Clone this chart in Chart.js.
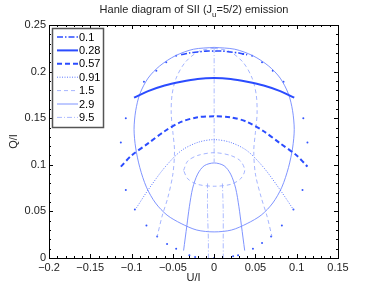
<!DOCTYPE html>
<html>
<head>
<meta charset="utf-8">
<script src="https://cdn.jsdelivr.net/npm/chart.js@4.4.1/dist/chart.umd.min.js"></script>
<style>
  html, body { margin: 0; padding: 0; background: #fff; }
  #wrap { position: relative; width: 374px; height: 291px; }
</style>
</head>
<body>
<div id="wrap"><canvas id="hanle" width="374" height="291"></canvas></div>
<script>
// valeurs : U/I (x) et Q/I (y)
const legendLabels = ['0.1', '0.28', '0.57', '0.91', '1.5', '2.9', '9.5'];
const xTicks = [-0.2, -0.15, -0.1, -0.05, 0, 0.05, 0.1, 0.15];
const yTicks = [0, 0.05, 0.1, 0.15, 0.2, 0.25];

// courbes à champ constant
const b01U = [-0.040, -0.030, -0.020, -0.010, 0, 0.010, 0.020, 0.030, 0.040];
const b01Q = [0.218, 0.220, 0.221, 0.222, 0.222, 0.222, 0.221, 0.220, 0.218];

const b028U = [-0.097, -0.080, -0.060, -0.040, -0.020, 0, 0.020, 0.040, 0.060, 0.080, 0.097];
const b028Q = [0.172, 0.179, 0.185, 0.189, 0.192, 0.193, 0.192, 0.189, 0.185, 0.179, 0.172];

const b057U = [-0.113, -0.100, -0.080, -0.060, -0.040, -0.020, 0, 0.020, 0.040, 0.060, 0.080, 0.100, 0.113];
const b057Q = [0.098, 0.110, 0.123, 0.136, 0.146, 0.151, 0.152, 0.151, 0.146, 0.136, 0.123, 0.110, 0.098];

const b091U = [-0.094, -0.080, -0.060, -0.040, -0.020, 0, 0.020, 0.040, 0.060, 0.080, 0.096];
const b091Q = [0.054, 0.073, 0.097, 0.115, 0.124, 0.127, 0.124, 0.115, 0.097, 0.073, 0.052];

const b15U = [-0.037, -0.032, -0.020, 0, 0.020, 0.032, 0.037, 0.032, 0.020, 0, -0.020, -0.032, -0.037];
const b15Q = [0.094, 0.104, 0.110, 0.113, 0.110, 0.104, 0.094, 0.085, 0.079, 0.077, 0.079, 0.085, 0.094];

const b29U = [-0.037, -0.033, -0.030, -0.026, -0.020, -0.012, 0, 0.012, 0.020, 0.026, 0.030, 0.033, 0.037];
const b29Q = [0.008, 0.035, 0.055, 0.075, 0.090, 0.099, 0.102, 0.099, 0.090, 0.075, 0.055, 0.035, 0.008];

const b95U = [-0.008, -0.008, -0.007, -0.007];
const b95Q = [0.080, 0.050, 0.020, 0.000];
const b95bU = [0.010, 0.011, 0.011, 0.011];
const b95bQ = [0.080, 0.050, 0.020, 0.000];

// courbes à azimut constant
const cercleU = [0, 0.025, 0.047, 0.066, 0.080, 0.090, 0.095, 0.097, 0.095, 0.090, 0.082, 0.071, 0.057, 0.040, 0.021, 0,
                 -0.021, -0.040, -0.057, -0.071, -0.082, -0.090, -0.095, -0.097, -0.095, -0.090, -0.080, -0.066, -0.047, -0.025, 0];
const cercleQ = [0.226, 0.224, 0.217, 0.206, 0.193, 0.176, 0.158, 0.138, 0.118, 0.097, 0.076, 0.059, 0.046, 0.037, 0.030, 0.028,
                 0.030, 0.037, 0.046, 0.059, 0.076, 0.097, 0.118, 0.138, 0.158, 0.176, 0.193, 0.206, 0.217, 0.224, 0.226];

const radGU = [0, -0.018, -0.035, -0.046, -0.051, -0.052, -0.050, -0.048, -0.050, -0.056, -0.063, -0.069];
const radGQ = [0.225, 0.222, 0.210, 0.193, 0.175, 0.155, 0.135, 0.115, 0.090, 0.065, 0.045, 0.023];
const radDU = [0, 0.018, 0.035, 0.046, 0.051, 0.052, 0.050, 0.048, 0.050, 0.057, 0.064, 0.070];
const radDQ = [0.225, 0.222, 0.210, 0.193, 0.175, 0.155, 0.135, 0.115, 0.090, 0.065, 0.045, 0.023];

const axeU = [0, 0, 0];
const axeQ = [0.225, 0.160, 0.103];

// points isolés de la grande boucle
const pointsU = [-0.023, -0.030, -0.046, -0.057, -0.069, -0.082, -0.096, -0.107, -0.113, -0.107, -0.085, -0.070, -0.058, -0.046,
                 0.035, 0.046, 0.058, 0.071, 0.084, 0.108, 0.113, 0.107, 0.096, 0.082, 0.069, 0.058, 0.047, 0.029, 0.023, 0];
const pointsQ = [0.001, 0.003, 0.010, 0.015, 0.023, 0.035, 0.052, 0.073, 0.124, 0.150, 0.189, 0.201, 0.210, 0.217,
                 0.219, 0.217, 0.210, 0.201, 0.189, 0.150, 0.124, 0.073, 0.052, 0.035, 0.023, 0.016, 0.010, 0.003, 0.002, 0];

function pts(us, qs) {
    return us.map((u, i) => ({ x: u, y: qs[i] }));
}

// styles des sept valeurs de la légende
const styles = [
    { color: '#2b4cff', width: 1.6, dash: [6, 2, 1.5, 2] },
    { color: '#2b4cff', width: 2,   dash: [] },
    { color: '#2b4cff', width: 2,   dash: [5, 3] },
    { color: '#5c78ff', width: 1,   dash: [1, 1.5] },
    { color: '#8ea2ff', width: 0.8, dash: [4, 3] },
    { color: '#7088ff', width: 0.9, dash: [] },
    { color: '#95a8ff', width: 0.8, dash: [5, 2, 1, 2] }
];

function serie(us, qs, k, label) {
    return {
        label: label || '',
        data: pts(us, qs),
        showLine: true,
        borderColor: styles[k].color,
        backgroundColor: styles[k].color,
        borderWidth: styles[k].width,
        borderDash: styles[k].dash,
        pointRadius: 0,
        tension: 0.3
    };
}

const datasets = [
    serie(b01U, b01Q, 0, legendLabels[0]),
    serie(b028U, b028Q, 1, legendLabels[1]),
    serie(b057U, b057Q, 2, legendLabels[2]),
    serie(b091U, b091Q, 3, legendLabels[3]),
    serie(b15U, b15Q, 4, legendLabels[4]),
    serie(b29U, b29Q, 5, legendLabels[5]),
    serie(b95U, b95Q, 6, legendLabels[6]),
    serie(b95bU, b95bQ, 6),
    serie(cercleU, cercleQ, 5),
    serie(radGU, radGQ, 4),
    serie(radDU, radDQ, 4),
    serie(axeU, axeQ, 6),
    {
        label: '',
        data: pts(pointsU, pointsQ),
        showLine: false,
        pointRadius: 1,
        pointBorderWidth: 0,
        backgroundColor: '#3355ff',
        borderColor: '#3355ff'
    }
];

// ticks vers l'intérieur, cadre complet, petits ticks (style matlab)
const matlabAxes = {
    id: 'matlabAxes',
    afterDatasetsDraw(chart) {
        const c = chart.ctx;
        const a = chart.chartArea;
        const xs = chart.scales.x, ys = chart.scales.y;
        c.save();
        c.strokeStyle = '#000';
        c.lineWidth = 1;
        c.beginPath();
        for (let v = -0.2; v <= 0.1501; v += 0.01) {
            const px = Math.round(xs.getPixelForValue(v)) + 0.5;
            const major = Math.abs(v / 0.05 - Math.round(v / 0.05)) < 1e-6;
            const l = major ? 4 : 2;
            c.moveTo(px, a.bottom); c.lineTo(px, a.bottom - l);
            c.moveTo(px, a.top); c.lineTo(px, a.top + l);
        }
        for (let v = 0; v <= 0.2501; v += 0.01) {
            const py = Math.round(ys.getPixelForValue(v)) + 0.5;
            const major = Math.abs(v / 0.05 - Math.round(v / 0.05)) < 1e-6;
            const l = major ? 4 : 2;
            c.moveTo(a.left, py); c.lineTo(a.left + l, py);
            c.moveTo(a.right, py); c.lineTo(a.right - l, py);
        }
        c.stroke();
        c.lineWidth = 1;
        c.strokeRect(Math.round(a.left) + 0.5, Math.round(a.top) + 0.5,
                     Math.round(a.right - a.left), Math.round(a.bottom - a.top));
        c.restore();
    }
};

// légende encadrée en haut à gauche
const legendBox = {
    id: 'legendBox',
    afterDraw(chart) {
        const c = chart.ctx;
        const a = chart.chartArea;
        const x0 = a.left + 3, y0 = a.top + 3, w = 51, h = 99;
        c.save();
        c.fillStyle = '#fff';
        c.fillRect(x0, y0, w, h);
        c.strokeStyle = '#555';
        c.lineWidth = 1.5;
        c.strokeRect(x0 + 0.5, y0 + 0.5, w, h);
        c.font = '11px "Liberation Sans", Arial, sans-serif';
        c.textBaseline = 'middle';
        legendLabels.forEach((lab, i) => {
            const y = y0 + 9 + i * 13.4;
            const s = styles[i];
            c.strokeStyle = s.color;
            c.lineWidth = s.width;
            c.setLineDash(s.dash);
            c.beginPath();
            c.moveTo(x0 + 5, y);
            c.lineTo(x0 + 26, y);
            c.stroke();
            c.setLineDash([]);
            c.fillStyle = '#000';
            c.fillText(lab, x0 + 27, y + 0.5);
        });
        c.restore();
    }
};

// titre avec indice
const titre = {
    id: 'titre',
    afterDraw(chart) {
        const c = chart.ctx;
        c.save();
        c.fillStyle = '#222';
        c.textBaseline = 'alphabetic';
        const f = '11px "Liberation Sans", Arial, sans-serif';
        const fs = '8px "Liberation Sans", Arial, sans-serif';
        const p1 = 'Hanle diagram of SII (J', p2 = 'u', p3 = '=5/2) emission';
        c.font = f;
        const w1 = c.measureText(p1).width, w3 = c.measureText(p3).width;
        c.font = fs;
        const w2 = c.measureText(p2).width;
        let x = 194 - (w1 + w2 + w3) / 2;
        c.font = f; c.fillText(p1, x, 13); x += w1;
        c.font = fs; c.fillText(p2, x, 17); x += w2;
        c.font = f; c.fillText(p3, x, 13);
        c.restore();
    }
};

Chart.defaults.font.family = '"Liberation Sans", Arial, sans-serif';
Chart.defaults.font.size = 11;
Chart.defaults.color = '#222';

new Chart(document.getElementById('hanle'), {
    type: 'scatter',
    data: { datasets: datasets },
    options: {
        responsive: false,
        animation: false,
        layout: { padding: { top: 25, right: 36, left: 0, bottom: 0 } },
        plugins: {
            legend: { display: false },
            tooltip: { enabled: false },
            title: { display: false }
        },
        scales: {
            x: {
                type: 'linear',
                min: -0.2, max: 0.15,
                afterBuildTicks: s => { s.ticks = xTicks.map(v => ({ value: v })); },
                afterFit: s => { s.height = 33; },
                grid: { display: false, drawTicks: false },
                border: { display: false },
                ticks: {
                    padding: 3,
                    maxRotation: 0,
                    callback: v => String(Math.round(v * 100) / 100).replace('-', '\u2212')
                },
                title: { display: true, text: 'U/I', padding: { top: 0, bottom: 6 } }
            },
            y: {
                type: 'linear',
                min: 0, max: 0.25,
                afterBuildTicks: s => { s.ticks = yTicks.map(v => ({ value: v })); },
                afterFit: s => { s.width = 49; },
                grid: { display: false, drawTicks: false },
                border: { display: false },
                ticks: {
                    padding: 3,
                    callback: v => String(Math.round(v * 100) / 100)
                },
                title: { display: true, text: 'Q/I', padding: { top: 7, bottom: 0 } }
            }
        }
    },
    plugins: [matlabAxes, legendBox, titre]
});
</script>
</body>
</html>
